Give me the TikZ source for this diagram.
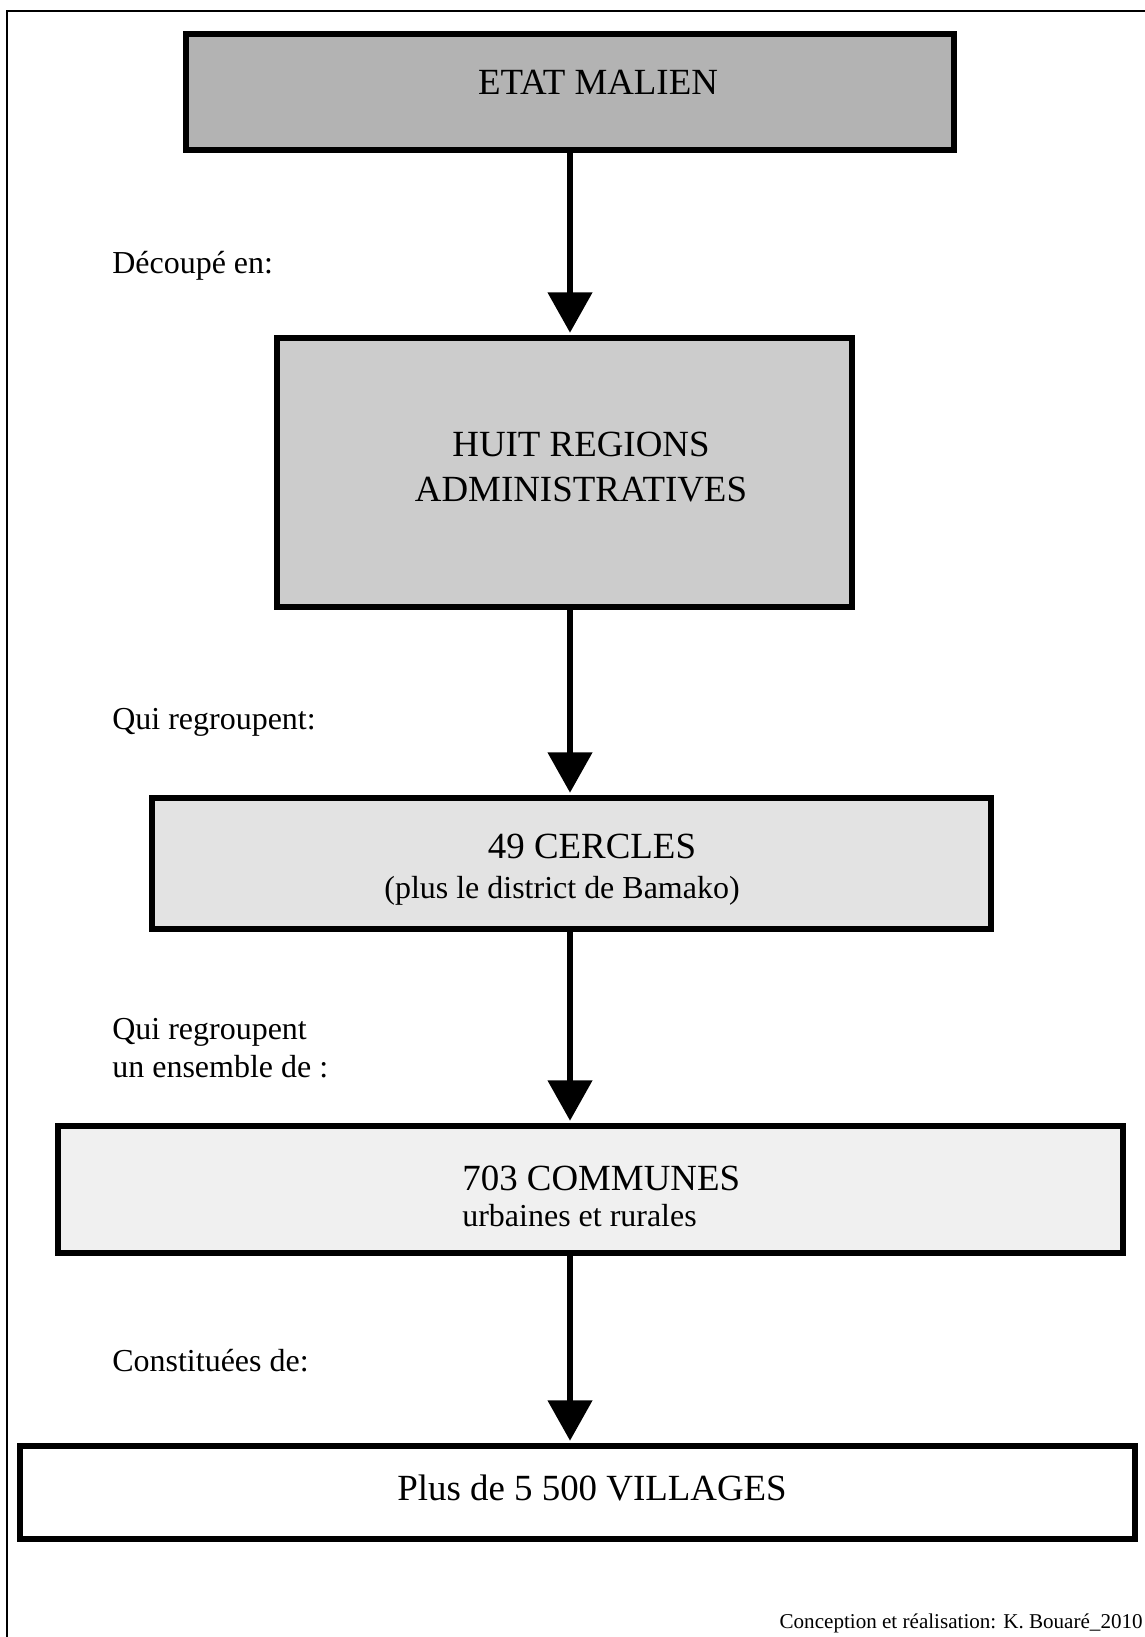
\documentclass[tikz,border=0pt]{standalone}
\usepackage{fontspec}
\setmainfont{Liberation Serif}
\usetikzlibrary{arrows.meta}

\definecolor{grisfonce}{HTML}{B3B3B3}
\definecolor{grismoyen}{HTML}{CCCCCC}
\definecolor{grisclair}{HTML}{E3E3E3}
\definecolor{grispale}{HTML}{F0F0F0}

\tikzset{
	boite/.style={draw=black, line width=3.1pt, inner sep=0pt},
	grand/.style={font=\fontsize{21}{25.6}\selectfont, inner sep=0pt},
	moyen/.style={font=\fontsize{18.2}{21.6}\selectfont, inner sep=0pt},
	petit/.style={font=\fontsize{12}{14}\selectfont, inner sep=0pt},
	fleche/.style={line width=2.9pt, -{Triangle[width=25pt,length=23pt]}, shorten >=1.5pt}
}

\begin{document}
\begin{tikzpicture}[x=0.02cm, y=-0.02cm]
		%%%%% START %%%%%
		
		\useasboundingbox (0,0) rectangle (1145,1637);
		\clip (0,0) rectangle (1145,1637);
		\draw[line width=1.15pt] (7,1700) -- (7,11) -- (1200,11);
		
		% boites
		\node[boite, fill=grisfonce, minimum width=15.36cm, minimum height=2.32cm] (etat) at (570,92) {};
		\node[boite, fill=grismoyen, minimum width=11.5cm, minimum height=5.38cm] (regions) at (564.5,472.5) {};
		\node[boite, fill=grisclair, minimum width=16.78cm, minimum height=2.62cm] (cercles) at (571.5,863.5) {};
		\node[boite, fill=grispale, minimum width=21.3cm, minimum height=2.54cm] (communes) at (590.5,1189.5) {};
		\node[boite, fill=white, minimum width=22.3cm, minimum height=1.86cm] (villages) at (577.5,1492.5) {};
		
		% textes des boites
		\node[grand, anchor=base] (etattxt) at (598,94) {ETAT MALIEN};
		\node[grand, anchor=base, align=center] (regionstxt) at (581,501) {HUIT REGIONS\\ADMINISTRATIVES};
		\node[grand, anchor=base] (cerclestxt) at (592,858) {49 CERCLES};
		\node[moyen, anchor=base] (bamako) at (562,898) {(plus le district de Bamako)};
		\node[grand, anchor=base west] (communestxt) at (462,1190) {703 COMMUNES};
		\node[moyen, anchor=base west] (urbaines) at (462,1226) {urbaines et rurales};
		\node[grand, anchor=base] (villagestxt) at (592,1500) {Plus de 5 500 VILLAGES};
		
		% fleches
		\coordinate (axe) at (570,0);
		\draw[fleche] (axe |- etat.south) -- (axe |- regions.north);
		\draw[fleche] (axe |- regions.south) -- (axe |- cercles.north);
		\draw[fleche] (axe |- cercles.south) -- (axe |- communes.north);
		\draw[fleche] (axe |- communes.south) -- (axe |- villages.north);
		
		% legendes
		\node[moyen, anchor=base west] (decoupe) at (112,273) {Découpé en:};
		\node[moyen, anchor=base west] (regroupent) at (112,729) {Qui regroupent:};
		\node[moyen, anchor=base west, align=left] (ensemble) at (112,1077) {Qui regroupent\\un ensemble de :};
		\node[moyen, anchor=base west] (constituees) at (112,1371) {Constituées de:};
		
		\node[petit, anchor=base east] (auteur) at (1143,1628) {Conception et réalisation: K. Bouaré\_2010};
		
		%%%%% END %%%%%
\end{tikzpicture}
\end{document}
